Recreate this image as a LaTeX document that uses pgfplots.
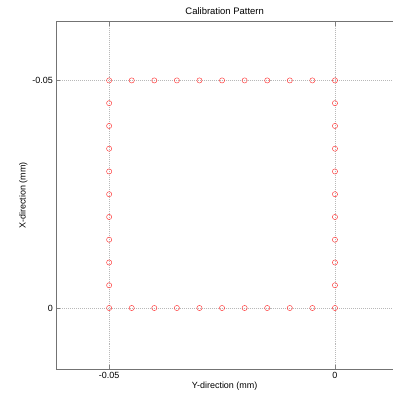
\documentclass[border=0pt]{standalone}
\usepackage{pgfplots}
\pgfplotsset{compat=1.18}
\usepackage{fontspec}
\setmainfont{Liberation Sans}
\begin{document}
\begin{tikzpicture}
\pgfplotstableread{
x y
-0.050 -0.050
-0.045 -0.050
-0.040 -0.050
-0.035 -0.050
-0.030 -0.050
-0.025 -0.050
-0.020 -0.050
-0.015 -0.050
-0.010 -0.050
-0.005 -0.050
0.000 -0.050
-0.050 0.000
-0.045 0.000
-0.040 0.000
-0.035 0.000
-0.030 0.000
-0.025 0.000
-0.020 0.000
-0.015 0.000
-0.010 0.000
-0.005 0.000
0.000 0.000
-0.050 -0.045
-0.050 -0.040
-0.050 -0.035
-0.050 -0.030
-0.050 -0.025
-0.050 -0.020
-0.050 -0.015
-0.050 -0.010
-0.050 -0.005
0.000 -0.045
0.000 -0.040
0.000 -0.035
0.000 -0.030
0.000 -0.025
0.000 -0.020
0.000 -0.015
0.000 -0.010
0.000 -0.005
}\pts
\begin{axis}[
  at={(0,0)}, anchor=south west,
  scale only axis, width=336.7bp, height=347.3bp,
  xmin=-0.0617, xmax=0.01285,
  ymin=-0.0629, ymax=0.0134,
  y dir=reverse,
  scaled ticks=false,
  axis line style={draw=none},
  xtick={-0.05,0}, xticklabels={-0.05,0},
  ytick={-0.05,0}, yticklabels={-0.05,0},
  tick style={draw=black!50, line width=0.6pt},
  major tick length=4bp,
  tick align=inside,
  xtick pos=both, ytick pos=left,
  ticklabel style={font=\fontsize{9}{10}\selectfont},
  xmajorgrids, ymajorgrids,
  grid style={dash pattern=on 0.6pt off 1.4pt, black!28, line width=0.6pt},
  title={Calibration Pattern},
  title style={font=\fontsize{9.5}{10}\selectfont, yshift=-2bp},
  xlabel={Y-direction (mm)},
  ylabel={X-direction (mm)},
  label style={font=\fontsize{9}{10}\selectfont},
  xlabel style={yshift=4bp},
  ylabel style={yshift=-2bp},
  clip=false,
]
\addplot[only marks, mark=o, mark size=2.6pt, red!80, mark options={line width=0.45pt}] table {\pts};
\draw[black!55, line width=0.6pt] (rel axis cs:1,1) -- (rel axis cs:0,1) -- (rel axis cs:0,0) -- (rel axis cs:1,0);
\end{axis}
\pgfresetboundingbox
\path (-56.3bp,-29bp) rectangle (336.7bp,369bp);
\end{tikzpicture}
\end{document}
